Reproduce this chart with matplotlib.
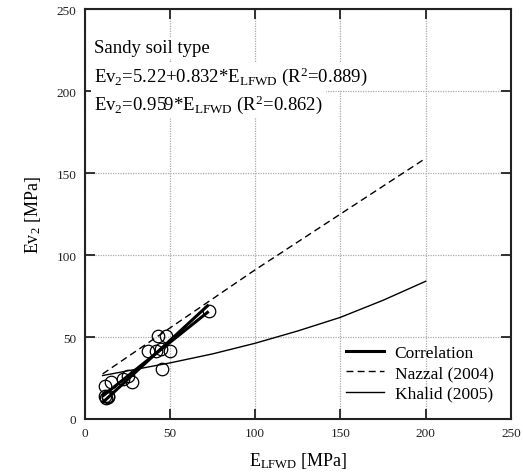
import numpy as np
import matplotlib
matplotlib.use("Agg")
import matplotlib.pyplot as plt

plt.rcParams['font.family'] = ['Liberation Serif', 'DejaVu Serif']
plt.rcParams['mathtext.fontset'] = 'custom'
plt.rcParams['mathtext.rm'] = 'Liberation Serif'
plt.rcParams['mathtext.it'] = 'Liberation Serif'
plt.rcParams['mathtext.default'] = 'regular'

# measured points (E_LFWD, Ev2)
e_lfwd = [11.9, 15.2, 11.9, 13.8, 12.5, 13.5, 22.5, 28.0, 25.5,
          37.1, 42.0, 45.0, 49.8, 43.0, 47.5, 45.5, 72.7]
ev2 = [19.9, 22.8, 13.8, 14.2, 12.5, 13.5, 24.4, 22.8, 26.4,
       41.6, 41.6, 42.7, 41.6, 50.8, 50.8, 30.5, 66.0]

# correlation lines (endpoints)
corr1_x = [11, 72]
corr1_y = [10.5, 69.0]
corr2_x = [11, 72]
corr2_y = [14.4, 65.0]

# Nazzal (2004)
nazzal_x = [10.5, 100, 150, 200]
nazzal_y = [27.5, 91, 125, 159]

# Khalid (2005)
khalid_x = [10.5, 30, 50, 75, 100, 125, 150, 175, 200]
khalid_y = [26.5, 30.3, 34.2, 39.7, 46.2, 53.7, 62.0, 72.4, 84.0]

fig = plt.figure(figsize=(5.23, 4.77), dpi=100)
ax = fig.add_axes([0.162, 0.1195, 0.815, 0.8595])

ax.grid(True, color='#aaaaaa', linestyle=(0, (1, 1)), linewidth=0.9, zorder=0)
ax.set_axisbelow(True)

ax.plot(corr1_x, corr1_y, color='black', lw=2.2, label='Correlation')
ax.plot(corr2_x, corr2_y, color='black', lw=2.2)
ax.plot(nazzal_x, nazzal_y, color='black', lw=1.0, linestyle=(0, (5, 3)), label='Nazzal (2004)')
ax.plot(khalid_x, khalid_y, color='black', lw=1.0, label='Khalid (2005)')
ax.plot(e_lfwd, ev2, 'o', mfc='none', mec='black', ms=9, mew=0.9)

ax.set_xlim(0, 250)
ax.set_ylim(0, 250)
ax.set_xticks(np.arange(0, 251, 50))
ax.set_yticks(np.arange(0, 251, 50))
ax.tick_params(direction='in', length=7, width=1.3, top=True, right=True,
               labelsize=9.5, colors='#222222', pad=6)
for s in ax.spines.values():
    s.set_linewidth(1.5)
    s.set_color('#222222')

ax.set_xlabel('E$_{LFWD}$ [MPa]', fontsize=13, labelpad=8)
ax.set_ylabel('Ev$_2$ [MPa]', fontsize=13, labelpad=10)

box = dict(facecolor='white', edgecolor='none', pad=2)
ax.text(0.022, 0.905, 'Sandy soil type', transform=ax.transAxes, fontsize=13.5,
        va='center', bbox=box, zorder=5)
ax.text(0.022, 0.837, 'Ev$_2$=5.22+0.832*E$_{LFWD}$ (R$^2$=0.889)', transform=ax.transAxes,
        fontsize=13.5, va='center', bbox=box, zorder=5)
ax.text(0.022, 0.768, 'Ev$_2$=0.959*E$_{LFWD}$ (R$^2$=0.862)', transform=ax.transAxes,
        fontsize=13.5, va='center', bbox=box, zorder=5)

ax.legend(loc='lower right', frameon=False, fontsize=12.5, handlelength=2.2,
          handletextpad=0.6, labelspacing=0.25, borderaxespad=0.6)

fig.savefig('out.png', dpi=100)
